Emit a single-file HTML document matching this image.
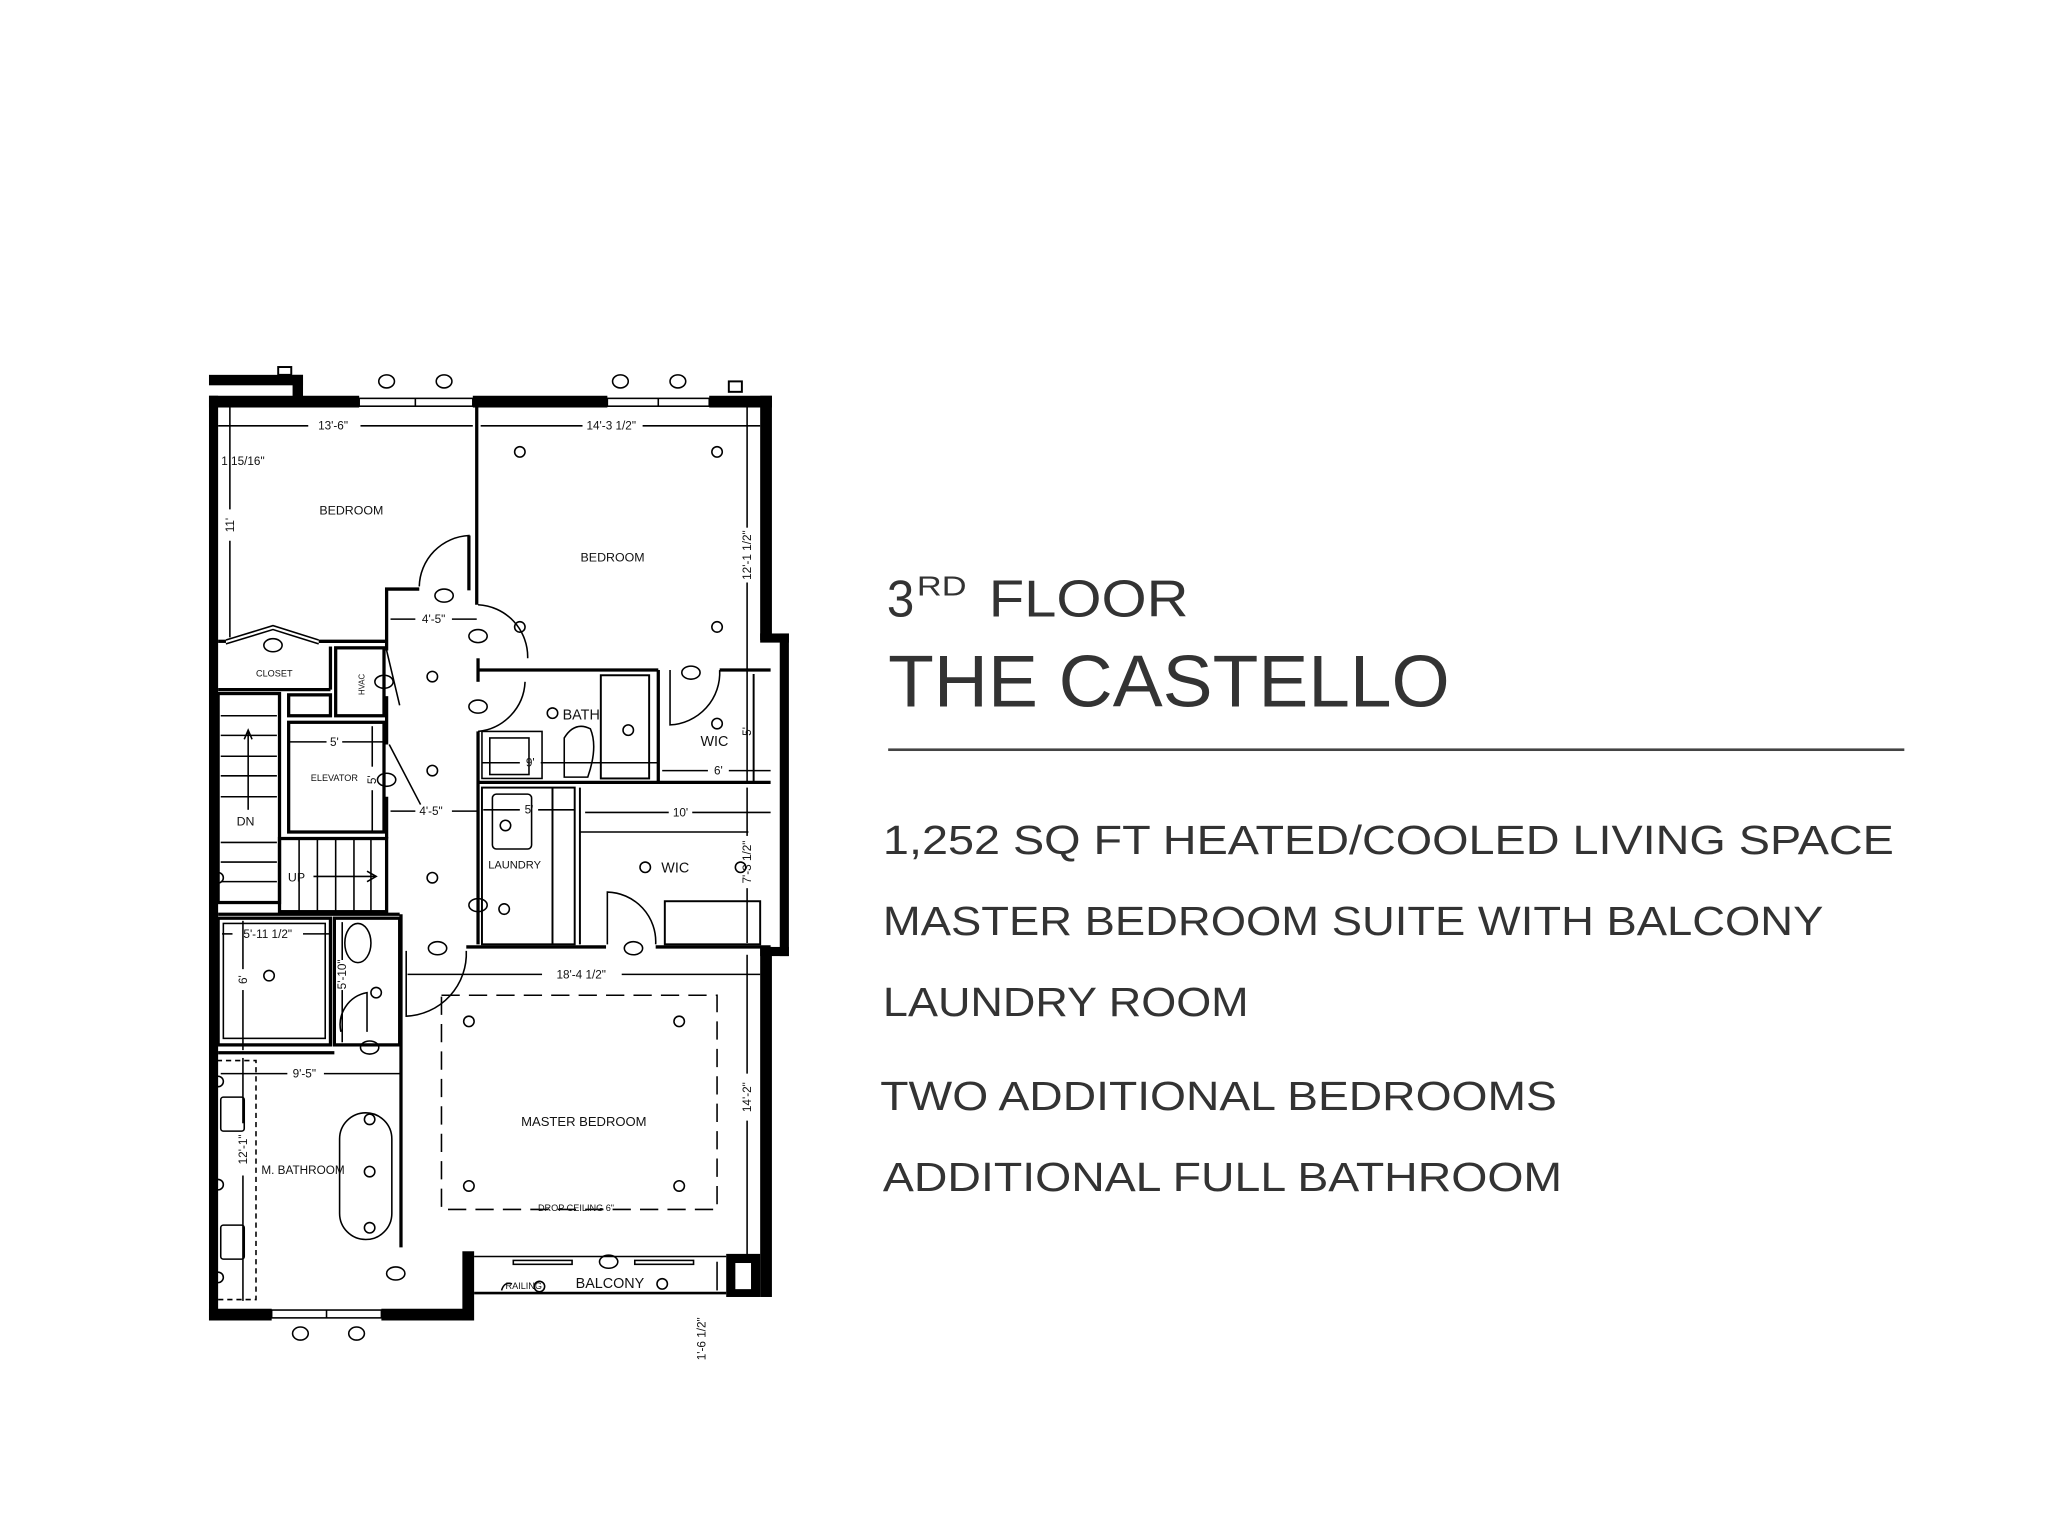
<!DOCTYPE html>
<html><head><meta charset="utf-8"><style>
html,body{margin:0;padding:0;background:#fff;}
svg{display:block;}
</style></head><body>
<svg width="2048" height="1536" viewBox="0 0 1568 1176" xmlns="http://www.w3.org/2000/svg" font-family="Liberation Sans, sans-serif">
<rect width="1568" height="1176" fill="#fff"/>
<g fill="#333">
<text x="679" y="472" font-size="40" textLength="21" lengthAdjust="spacingAndGlyphs">3</text>
<text x="702" y="456" font-size="21" textLength="38" lengthAdjust="spacingAndGlyphs">RD</text>
<text x="757" y="472" font-size="40" textLength="153" lengthAdjust="spacingAndGlyphs">FLOOR</text>
<text x="680" y="541" font-size="56" textLength="430" lengthAdjust="spacingAndGlyphs">THE CASTELLO</text>
<rect x="680" y="573" width="778" height="2" fill="#444"/>
<text x="676" y="654" font-size="31" textLength="774" lengthAdjust="spacingAndGlyphs">1,252 SQ FT HEATED/COOLED LIVING SPACE</text>
<text x="676" y="716" font-size="31" textLength="720" lengthAdjust="spacingAndGlyphs">MASTER BEDROOM SUITE WITH BALCONY</text>
<text x="676" y="778" font-size="31" textLength="280" lengthAdjust="spacingAndGlyphs">LAUNDRY ROOM</text>
<text x="674" y="850" font-size="31" textLength="518" lengthAdjust="spacingAndGlyphs">TWO ADDITIONAL BEDROOMS</text>
<text x="676" y="912" font-size="31" textLength="520" lengthAdjust="spacingAndGlyphs">ADDITIONAL FULL BATHROOM</text>
</g>

<g fill="#000">
<rect x="160" y="287" width="72" height="8"/>
<rect x="224" y="287" width="8" height="18"/>
<rect x="213" y="281" width="10" height="6" fill="none" stroke="#000" stroke-width="1.5"/>
<rect x="160" y="303" width="115" height="9"/>
<rect x="362" y="303" width="103" height="9"/>
<rect x="543" y="303" width="48" height="9"/>
<rect x="558" y="292" width="10" height="8" fill="none" stroke="#000" stroke-width="1.5"/>
<rect x="160" y="303" width="7" height="708"/>
<rect x="582" y="303" width="9" height="187"/>
<rect x="582" y="485" width="22" height="7"/>
<rect x="597" y="485" width="7" height="247"/>
<rect x="582" y="725" width="22" height="7"/>
<rect x="582" y="725" width="9" height="268"/>
<rect x="556" y="960" width="26" height="33"/>
<rect x="563" y="967" width="12" height="20" fill="#fff"/>
<rect x="160" y="1002" width="48" height="9"/>
<rect x="292" y="1002" width="70" height="9"/>
<rect x="354" y="958" width="9" height="53"/>
</g>
<g fill="none" stroke="#000" stroke-width="1.2">
<rect x="275" y="305" width="87" height="6"/><line x1="318" y1="305" x2="318" y2="311"/>
<rect x="465" y="305" width="78" height="6"/><line x1="504" y1="305" x2="504" y2="311"/>
<rect x="208" y="1003" width="84" height="6"/><line x1="250" y1="1003" x2="250" y2="1009"/>
<ellipse cx="296" cy="292" rx="6" ry="5"/><ellipse cx="340" cy="292" rx="6" ry="5"/>
<ellipse cx="475" cy="292" rx="6" ry="5"/><ellipse cx="519" cy="292" rx="6" ry="5"/>
<ellipse cx="230" cy="1021" rx="6" ry="5"/><ellipse cx="273" cy="1021" rx="6" ry="5"/>
</g>
<g fill="none" stroke="#000" stroke-width="2.5">
<line x1="365" y1="311" x2="365" y2="463"/>
<line x1="359" y1="410" x2="359" y2="452"/>
<polyline points="321,451 296,451 296,498"/>
<line x1="296" y1="533" x2="296" y2="570"/>
<line x1="296" y1="610" x2="296" y2="642"/>
<line x1="167" y1="491" x2="173" y2="491"/>
<line x1="244" y1="491" x2="296" y2="491"/>
<line x1="167" y1="528" x2="253" y2="528"/>
<line x1="253" y1="495" x2="253" y2="528"/>
<rect x="257" y="496" width="37" height="52"/>
<rect x="221" y="532" width="32" height="16"/>
<rect x="167" y="531" width="47" height="160"/>
<rect x="221" y="553" width="73" height="84"/>
<line x1="366" y1="504" x2="366" y2="522"/>
<line x1="366" y1="560" x2="366" y2="723"/>
<line x1="366" y1="513" x2="504" y2="513"/>
<line x1="551" y1="513" x2="590" y2="513"/>
<line x1="504" y1="513" x2="504" y2="598"/>
<line x1="366" y1="599" x2="590" y2="599"/>
<rect x="460" y="517" width="37" height="79" stroke-width="1.5"/>
<rect x="369" y="603" width="71" height="120" stroke-width="1.5"/>
<line x1="423" y1="603" x2="423" y2="723" stroke-width="1.5"/>
<line x1="444" y1="603" x2="444" y2="723" stroke-width="1.5"/>
<line x1="444" y1="637" x2="573" y2="637" stroke-width="1.2"/>
<rect x="509" y="690" width="73" height="33" stroke-width="1.5"/>
<line x1="577" y1="516" x2="577" y2="598" stroke-width="1.5"/>
<line x1="357" y1="725" x2="464" y2="725"/>
<line x1="502" y1="725" x2="590" y2="725"/>
<rect x="214" y="642" width="82" height="56"/>
<line x1="167" y1="700" x2="306" y2="700"/>
<rect x="256" y="703" width="50" height="97"/>
<rect x="167" y="703" width="86" height="97"/>
<rect x="171" y="707" width="78" height="88" stroke-width="1.2"/>
<line x1="307" y1="700" x2="307" y2="955"/>
<line x1="167" y1="806" x2="256" y2="806"/>
</g>
<g fill="none" stroke="#000" stroke-width="1.2">
<path d="M359,449 L359,410 A40,40 0 0 0 321,449"/>
<path d="M366,463 A40,40 0 0 1 404,504"/>
<path d="M366,560 A40,40 0 0 0 402,522"/>
<path d="M513,513 L513,555 A40,40 0 0 0 551,513"/>
<path d="M465,723 L465,683 A38,38 0 0 1 502,723"/>
<path d="M311,728 L311,778 A48,48 0 0 0 357,728"/>
<path d="M281,790 L281,760 A25,25 0 0 0 261,790"/>
<polyline points="173,490 209,479 244,490"/>
<polyline points="173,493 209,482 244,493"/>
<polyline points="296,498 306,540"/>
<polyline points="298,570 322,616"/>
<line x1="169" y1="548" x2="212" y2="548"/><line x1="169" y1="563" x2="212" y2="563"/>
<line x1="169" y1="579" x2="212" y2="579"/><line x1="169" y1="594" x2="212" y2="594"/>
<line x1="169" y1="610" x2="212" y2="610"/><line x1="169" y1="645" x2="212" y2="645"/>
<line x1="169" y1="660" x2="212" y2="660"/><line x1="169" y1="675" x2="212" y2="675"/>
<line x1="190" y1="560" x2="190" y2="620"/><polyline points="187,566 190,559 193,566"/>
<line x1="229" y1="642" x2="229" y2="698"/><line x1="243" y1="642" x2="243" y2="698"/>
<line x1="257" y1="642" x2="257" y2="698"/><line x1="271" y1="642" x2="271" y2="698"/>
<line x1="284" y1="642" x2="284" y2="698"/>
<line x1="240" y1="671" x2="288" y2="671"/><polyline points="281,667 288,671 281,675"/>
<rect x="369" y="560" width="46" height="36"/>
<rect x="375" y="565" width="30" height="28"/>
<path d="M432,595 L432,565 Q440,552 452,558 Q458,572 450,595 Z"/>
<ellipse cx="274" cy="722" rx="10" ry="15"/>
<rect x="377" y="608" width="30" height="42" rx="3"/>
<rect x="166" y="812" width="30" height="183" stroke-dasharray="4,3"/>
<rect x="169" y="840" width="18" height="26" rx="2"/>
<rect x="169" y="938" width="18" height="26" rx="2"/>
<rect x="260" y="852" width="40" height="97" rx="20"/>
<line x1="167" y1="326" x2="236" y2="326"/><line x1="276" y1="326" x2="362" y2="326"/>
<line x1="368" y1="326" x2="446" y2="326"/><line x1="492" y1="326" x2="582" y2="326"/>
<line x1="176" y1="312" x2="176" y2="390"/><line x1="176" y1="414" x2="176" y2="488"/>
<line x1="572" y1="312" x2="572" y2="404"/><line x1="572" y1="446" x2="572" y2="598"/>
<line x1="572" y1="603" x2="572" y2="640"/><line x1="572" y1="680" x2="572" y2="722"/>
<line x1="572" y1="731" x2="572" y2="822"/><line x1="572" y1="858" x2="572" y2="962"/>
<line x1="299" y1="474" x2="318" y2="474"/><line x1="346" y1="474" x2="365" y2="474"/>
<line x1="299" y1="621" x2="318" y2="621"/><line x1="346" y1="621" x2="366" y2="621"/>
<line x1="222" y1="568" x2="250" y2="568"/><line x1="262" y1="568" x2="293" y2="568"/>
<line x1="285" y1="556" x2="285" y2="587"/><line x1="285" y1="605" x2="285" y2="636"/>
<line x1="369" y1="584" x2="398" y2="584"/><line x1="414" y1="584" x2="503" y2="584"/>
<line x1="507" y1="590" x2="542" y2="590"/><line x1="558" y1="590" x2="590" y2="590"/>
<line x1="448" y1="622" x2="512" y2="622"/><line x1="530" y1="622" x2="590" y2="622"/>
<line x1="370" y1="620" x2="398" y2="620"/><line x1="412" y1="620" x2="440" y2="620"/>
<line x1="312" y1="746" x2="415" y2="746"/><line x1="476" y1="746" x2="582" y2="746"/>
<line x1="170" y1="715" x2="178" y2="715"/><line x1="232" y1="715" x2="253" y2="715"/>
<line x1="186" y1="705" x2="186" y2="742"/><line x1="186" y1="758" x2="186" y2="804"/>
<line x1="262" y1="706" x2="262" y2="735"/><line x1="262" y1="758" x2="262" y2="798"/>
<line x1="169" y1="822" x2="220" y2="822"/><line x1="248" y1="822" x2="306" y2="822"/>
<line x1="186" y1="810" x2="186" y2="860"/><line x1="186" y1="900" x2="186" y2="996"/>
<line x1="549" y1="966" x2="549" y2="988"/>
<rect x="338" y="762" width="211" height="164" stroke-dasharray="14,7"/>
<line x1="363" y1="990" x2="556" y2="990" stroke-width="2"/>
<line x1="363" y1="962" x2="556" y2="962"/>
<rect x="393" y="965" width="45" height="3"/>
<rect x="486" y="965" width="45" height="3"/>
<path d="M384,988 Q386,981 392,983"/>
<ellipse cx="340" cy="456" rx="7" ry="5"/><ellipse cx="366" cy="487" rx="7" ry="5"/>
<ellipse cx="209" cy="494" rx="7" ry="5"/><ellipse cx="294" cy="522" rx="7" ry="5"/>
<ellipse cx="366" cy="541" rx="7" ry="5"/><ellipse cx="296" cy="597" rx="7" ry="5"/>
<ellipse cx="529" cy="515" rx="7" ry="5"/><ellipse cx="366" cy="693" rx="7" ry="5"/>
<ellipse cx="335" cy="726" rx="7" ry="5"/><ellipse cx="485" cy="726" rx="7" ry="5"/>
<ellipse cx="283" cy="802" rx="7" ry="5"/><ellipse cx="303" cy="975" rx="7" ry="5"/>
<ellipse cx="466" cy="966" rx="7" ry="5"/>
</g>
<g fill="none" stroke="#000" stroke-width="1.2">
<circle cx="398" cy="346" r="4"/><circle cx="549" cy="346" r="4"/>
<circle cx="398" cy="480" r="4"/><circle cx="549" cy="480" r="4"/>
<circle cx="331" cy="518" r="4"/><circle cx="331" cy="590" r="4"/>
<circle cx="331" cy="672" r="4"/><circle cx="386" cy="696" r="4"/>
<circle cx="423" cy="546" r="4"/><circle cx="481" cy="559" r="4"/>
<circle cx="549" cy="554" r="4"/><circle cx="387" cy="632" r="4"/>
<circle cx="494" cy="664" r="4"/><circle cx="567" cy="664" r="4"/>
<circle cx="359" cy="782" r="4"/><circle cx="520" cy="782" r="4"/>
<circle cx="359" cy="908" r="4"/><circle cx="520" cy="908" r="4"/>
<circle cx="283" cy="857" r="4"/><circle cx="283" cy="897" r="4"/>
<circle cx="283" cy="940" r="4"/><circle cx="413" cy="985" r="4"/>
<circle cx="507" cy="983" r="4"/><circle cx="167" cy="672" r="4"/>
<circle cx="206" cy="747" r="4"/><circle cx="288" cy="760" r="4"/>
<circle cx="167" cy="828" r="4"/><circle cx="167" cy="907" r="4"/><circle cx="167" cy="978" r="4"/>
</g>
<g fill="#111" font-size="9.5" text-anchor="middle">
<text x="269" y="394">BEDROOM</text>
<text x="469" y="430">BEDROOM</text>
<text x="210" y="518" font-size="7">CLOSET</text>
<text x="256" y="598" font-size="7">ELEVATOR</text>
<text x="445" y="551" font-size="11">BATH</text>
<text x="547" y="571" font-size="11">WIC</text>
<text x="394" y="665" font-size="8.5">LAUNDRY</text>
<text x="517" y="668" font-size="11">WIC</text>
<text x="188" y="632">DN</text>
<text x="227" y="675">UP</text>
<text x="447" y="862" font-size="10">MASTER BEDROOM</text>
<text x="441" y="927" font-size="7">DROP CEILING 6"</text>
<text x="232" y="899" font-size="9">M. BATHROOM</text>
<text x="467" y="986" font-size="11">BALCONY</text>
<text x="401" y="987" font-size="7">RAILING</text>
<text x="255" y="329" font-size="9">13'-6"</text>
<text x="468" y="329" font-size="9">14'-3 1/2"</text>
<text x="186" y="356" font-size="9">1 15/16"</text>
<text x="332" y="477" font-size="9">4'-5"</text>
<text x="330" y="624" font-size="9">4'-5"</text>
<text x="256" y="571" font-size="9">5'</text>
<text x="406" y="587" font-size="9">9'</text>
<text x="550" y="593" font-size="9">6'</text>
<text x="521" y="625" font-size="9">10'</text>
<text x="405" y="623" font-size="9">5'</text>
<text x="445" y="749" font-size="9">18'-4 1/2"</text>
<text x="205" y="718" font-size="9">5'-11 1/2"</text>
<text x="233" y="825" font-size="9">9'-5"</text>
<text transform="translate(179,402) rotate(-90)" font-size="9">11'</text>
<text transform="translate(575,425) rotate(-90)" font-size="9">12'-1 1/2"</text>
<text transform="translate(575,560) rotate(-90)" font-size="9">5'</text>
<text transform="translate(575,660) rotate(-90)" font-size="9">7'-3 1/2"</text>
<text transform="translate(575,840) rotate(-90)" font-size="9">14'-2"</text>
<text transform="translate(540,1025) rotate(-90)" font-size="9">1'-6 1/2"</text>
<text transform="translate(189,750) rotate(-90)" font-size="9">6'</text>
<text transform="translate(265,746) rotate(-90)" font-size="9">5'-10"</text>
<text transform="translate(189,880) rotate(-90)" font-size="9">12'-1"</text>
<text transform="translate(288,597) rotate(-90)" font-size="9">5'</text>
<text transform="translate(279,524) rotate(-90)" font-size="6">HVAC</text>
</g>
</svg>
</body></html>
